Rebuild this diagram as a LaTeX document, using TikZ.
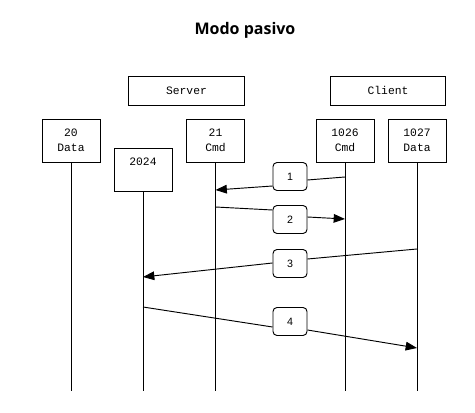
\documentclass[tikz,border=0pt]{standalone}
\usepackage{fontspec}
\setmainfont{Liberation Sans}
\newfontfamily\titlefont{Open Sans}
\newfontfamily\monofont{Liberation Mono}
\usetikzlibrary{arrows.meta,calc}
\begin{document}
\begin{tikzpicture}[x=0.75pt,y=-0.75pt,
  line width=0.7pt,
  portbox/.style={draw,fill=white,minimum width=43.5pt,minimum height=32.25pt,inner sep=0pt,align=center,font=\monofont\fontsize{8.5}{11}\selectfont},
  hostbox/.style={draw,fill=white,minimum width=86.5pt,minimum height=21.75pt,inner sep=0pt,font=\monofont\fontsize{8.5}{10}\selectfont},
  stepbox/.style={draw,fill=white,rounded corners=3pt,minimum width=25.5pt,minimum height=21pt,inner sep=0pt,font=\fontsize{8}{9}\selectfont},
  msg/.style={draw,-{Triangle[length=8.5pt,width=6.5pt]}}]
\useasboundingbox (0,0) rectangle (475,413);
\node[font=\titlefont\bfseries\fontsize{12}{14}\selectfont] (title) at (245,30) {Modo pasivo};
\node[hostbox] (server) at (186.5,90.5) {Server};
\node[hostbox] (client) at (388,90.5) {Client};
\node[portbox] (p20) at (71,140.5) {20\\Data};
\node[portbox] (p21) at (215.5,140.5) {21\\Cmd};
\node[portbox] (p2024) at (143,169.5) {2024\\\phantom{Data}};
\node[portbox] (p1026) at (345,140.5) {1026\\Cmd};
\node[portbox] (p1027) at (417,140.5) {1027\\Data};
\coordinate (e20) at (71,391);
\coordinate (e21) at (215.5,391);
\coordinate (e2024) at (143,391);
\coordinate (e1026) at (345,391);
\coordinate (e1027) at (417,391);
\draw (p20.south) -- (e20);
\draw (p21.south) -- (e21);
\draw (p2024.south) -- (e2024);
\draw (p1026.south) -- (e1026);
\draw (p1027.south) -- (e1027);
\node[stepbox] (b1) at (290,176.5) {1};
\node[stepbox] (b2) at (290,219.5) {2};
\node[stepbox] (b3) at (290,263.5) {3};
\node[stepbox] (b4) at (290,321.5) {4};
\coordinate (c1s) at (345,177);
\coordinate (c1e) at (215.5,190);
\coordinate (c2s) at (215.5,207);
\coordinate (c2e) at (345,219);
\coordinate (c3s) at (417,249);
\coordinate (c3e) at (143,277);
\coordinate (c4s) at (143,307);
\coordinate (c4e) at (417,348);
\draw (c1s) -- ($(b1.east)+(0,3.5)$);
\draw[msg] ($(b1.west)+(0,9.5)$) -- (c1e);
\draw (c2s) -- ($(b2.west)+(0,-9.5)$);
\draw[msg] ($(b2.east)+(0,-2.5)$) -- (c2e);
\draw (c3s) -- ($(b3.east)+(0,-4.5)$);
\draw[msg] ($(b3.west)+(0,-0.5)$) -- (c3e);
\draw (c4s) -- ($(b4.west)+(0,5.5)$);
\draw[msg] ($(b4.east)+(0,8.5)$) -- (c4e);
\end{tikzpicture}
\end{document}
